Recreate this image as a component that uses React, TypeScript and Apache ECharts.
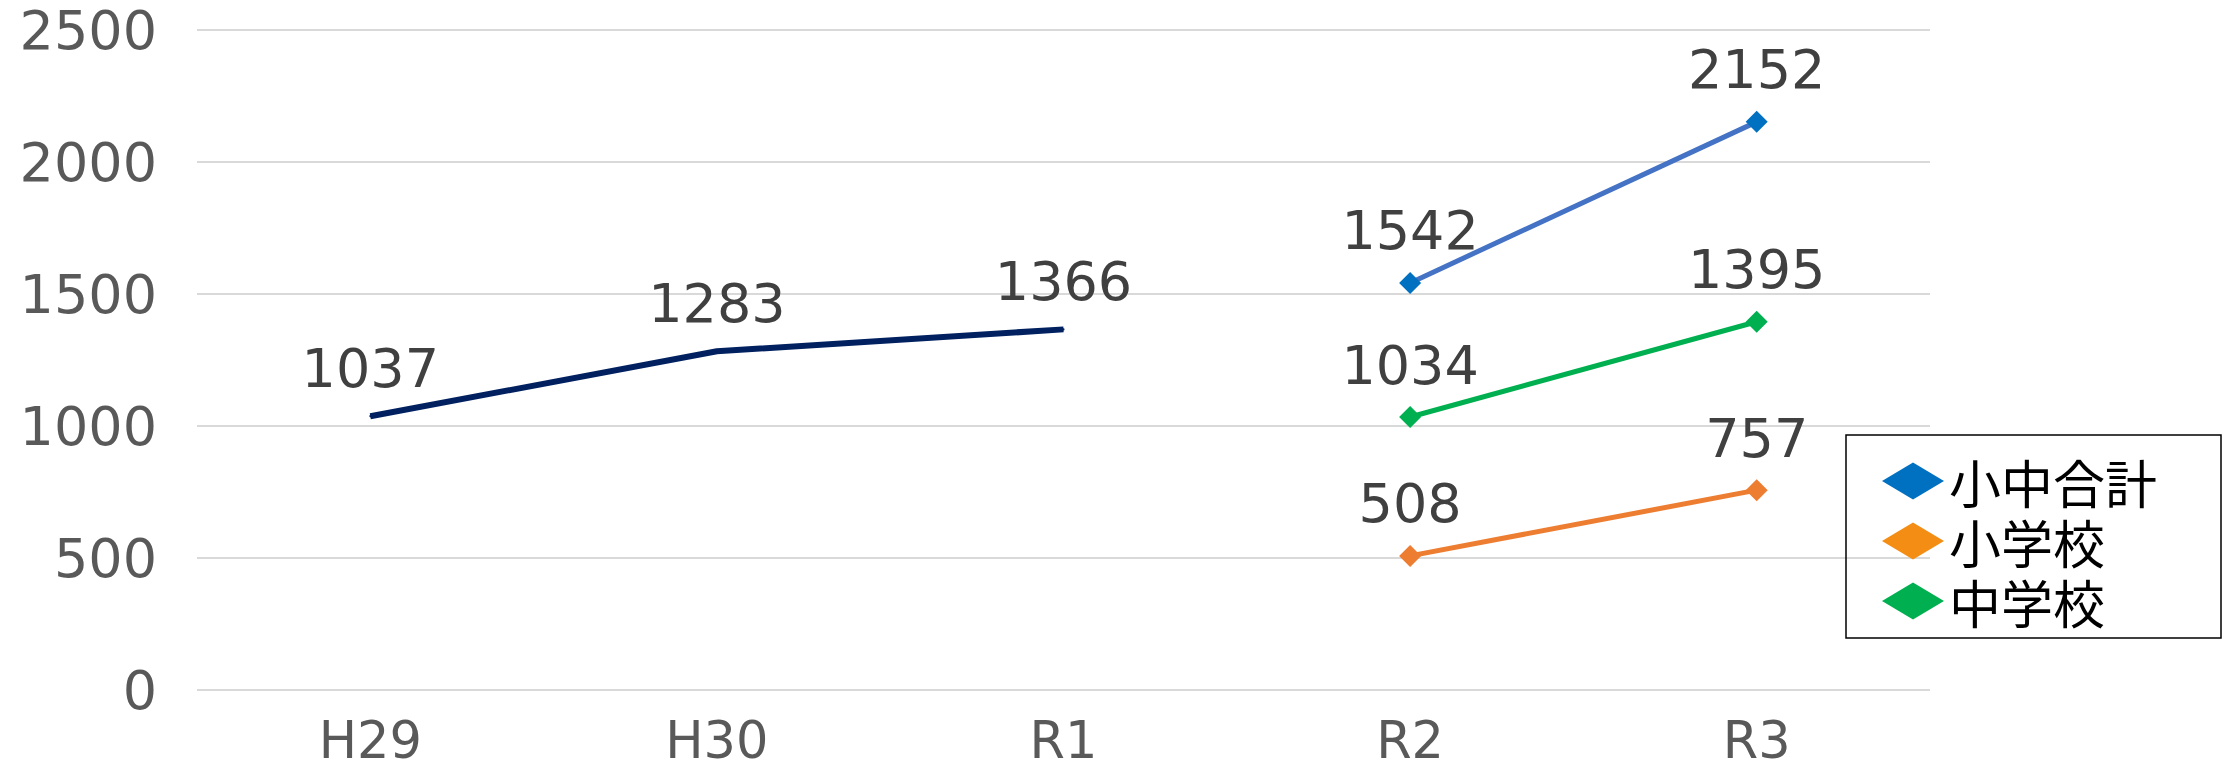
import React, { useEffect, useRef } from "react";
import * as echarts from "echarts";

const categories = ["H29", "H30", "R1", "R2", "R3"];
const trendValues = [1037, 1283, 1366, null, null];
const totalValues = [null, null, null, 1542, 2152];
const elementaryValues = [null, null, null, 508, 757];
const juniorValues = [null, null, null, 1034, 1395];
const yTicks = { min: 0, max: 2500, interval: 500 };

const FONT = "DejaVu Sans";
const CJK = "Noto Sans CJK JP";

export default function App() {
  const ref = useRef<HTMLDivElement>(null);
  useEffect(() => {
    const chart = echarts.init(ref.current!, undefined, { renderer: "svg" });
    const label = (distance: number) => ({
      show: true,
      position: "top",
      distance,
      color: "#404040",
      fontFamily: FONT,
      fontSize: 54,
      lineHeight: 54,
    });
    const mk = (name: string, data: any[], line: string, marker: string) => ({
      name,
      type: "line",
      data,
      symbol: "diamond",
      symbolSize: 22,
      lineStyle: { color: line, width: 5 },
      itemStyle: { color: marker },
      label: label(14),
    });
    chart.setOption({
      animation: false,
      grid: { left: 197, right: 298, top: 30, bottom: 77 },
      legend: {
        show: true,
        orient: "vertical",
        left: 1846,
        top: 435,
        padding: [16, 64, 7, 36],
        itemGap: 0,
        itemWidth: 62,
        itemHeight: 37,
        icon: "diamond",
        borderColor: "#000",
        borderWidth: 1.5,
        textStyle: { fontFamily: CJK, fontSize: 52, color: "#000", lineHeight: 60 },
        data: [
          { name: "小中合計", itemStyle: { color: "#0070C0" } },
          { name: "小学校", itemStyle: { color: "#F38D14" } },
          { name: "中学校", itemStyle: { color: "#00B050" } },
        ],
      },
      xAxis: {
        type: "category",
        data: categories,
        boundaryGap: true,
        axisLine: { show: false },
        axisTick: { show: false },
        axisLabel: {
          color: "#595959",
          fontFamily: FONT,
          fontSize: 51,
          lineHeight: 40,
          margin: 30,
        },
      },
      yAxis: {
        type: "value",
        min: yTicks.min,
        max: yTicks.max,
        interval: yTicks.interval,
        axisLine: { show: false },
        axisTick: { show: false },
        axisLabel: {
          color: "#595959",
          fontFamily: FONT,
          fontSize: 54,
          margin: 40,
          formatter: (v: number) => String(v),
        },
        splitLine: { lineStyle: { color: "#D9D9D9", width: 2 } },
      },
      series: [
        {
          name: "推移",
          type: "line",
          data: trendValues,
          symbol: "circle",
          symbolSize: 2,
          lineStyle: { color: "#002060", width: 6 },
          itemStyle: { color: "#002060" },
          label: label(20),
        },
        mk("小中合計", totalValues, "#4472C4", "#0070C0"),
        mk("中学校", juniorValues, "#00B050", "#00B050"),
        mk("小学校", elementaryValues, "#ED7D31", "#ED7D31"),
      ],
    });
    return () => chart.dispose();
  }, []);
  return (
    <div
      ref={ref}
      style={{ position: "fixed", left: 0, top: 0, width: 2228, height: 767, background: "#fff" }}
    />
  );
}
